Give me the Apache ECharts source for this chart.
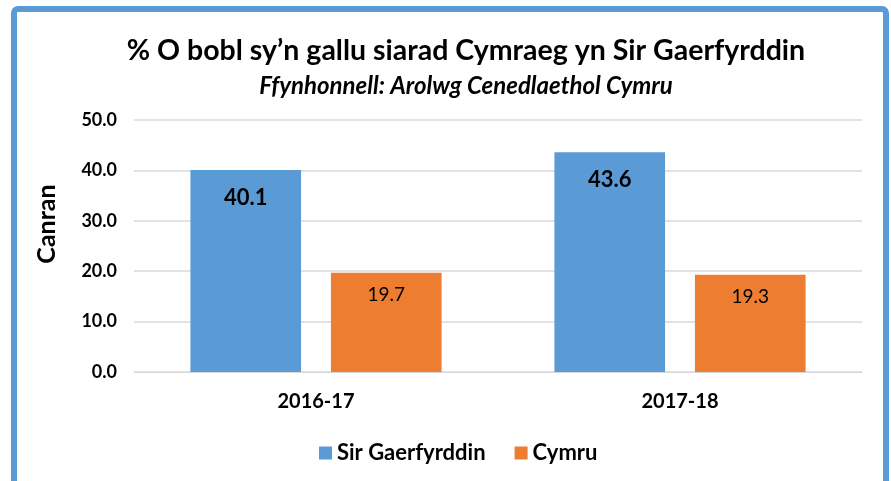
<!DOCTYPE html>
<html>
<head>
<meta charset="utf-8">
<script src="https://cdn.jsdelivr.net/npm/echarts@6/dist/echarts.min.js"></script>
<style>
html, body { margin: 0; padding: 0; background: #fff; }
#chart { width: 891px; height: 481px; }
</style>
</head>
<body>
<div id="chart"></div>
<script>
var categories = ["2016-17", "2017-18"];
var sirGaerfyrddin = [40.1, 43.6];
var cymru = [19.7, 19.3];
var seriesNames = ["Sir Gaerfyrddin", "Cymru"];

var font = "Lato, 'Open Sans', sans-serif";
var myChart = echarts.init(document.getElementById("chart"));
myChart.setOption({
  animation: false,
  backgroundColor: "#ffffff",
  textStyle: { fontFamily: font },
  graphic: [
    {
      type: "rect",
      shape: { x: 14, y: 9, width: 872, height: 490, r: 4 },
      style: { fill: "none", stroke: "#5b9bd5", lineWidth: 6 }
    }
  ],
  title: {
    text: "% O bobl sy\u2019n gallu siarad Cymraeg yn Sir Gaerfyrddin",
    subtext: "Ffynhonnell: Arolwg Cenedlaethol Cymru",
    left: 461,
    textAlign: "center",
    top: 31,
    itemGap: 9,
    textStyle: { fontFamily: font, fontSize: 28.5, fontWeight: "bold", color: "#000" },
    subtextStyle: { fontFamily: font, fontSize: 24, fontWeight: "bold", fontStyle: "italic", color: "#000" }
  },
  legend: {
    data: seriesNames,
    bottom: 12,
    left: 314,
    itemWidth: 13,
    itemHeight: 13,
    itemGap: 29,
    icon: "rect",
    textStyle: { fontFamily: font, fontSize: 22, fontWeight: "bold", color: "#000" }
  },
  grid: { left: 134, right: 29, top: 120, bottom: 109 },
  xAxis: {
    type: "category",
    data: categories,
    axisTick: { show: false },
    axisLine: { lineStyle: { color: "#d9d9d9" } },
    axisLabel: { fontFamily: font, fontSize: 20, fontWeight: "bold", color: "#000", margin: 20 }
  },
  yAxis: {
    type: "value",
    min: 0,
    max: 50,
    interval: 10,
    name: "Canran",
    nameLocation: "middle",
    nameGap: 75,
    nameTextStyle: { fontFamily: font, fontSize: 25, fontWeight: "bold", color: "#000", padding: [0, 0, 0, 44] },
    axisLine: { show: false },
    axisTick: { show: false },
    splitLine: { lineStyle: { color: "#d9d9d9", width: 1.5 } },
    axisLabel: {
      fontFamily: font, fontSize: 18, fontWeight: "bold", color: "#000", margin: 17,
      formatter: function (v) { return v.toFixed(1); }
    }
  },
  series: [
    {
      name: seriesNames[0],
      type: "bar",
      data: sirGaerfyrddin,
      barGap: "27%",
      barCategoryGap: "31%",
      itemStyle: { color: "#5b9bd5" },
      label: {
        show: true, position: "insideTop", distance: 17,
        fontFamily: font, fontSize: 22, fontWeight: "bold", color: "#000",
        formatter: function (p) { return p.value.toFixed(1); }
      }
    },
    {
      name: seriesNames[1],
      type: "bar",
      data: cymru,
      itemStyle: { color: "#ed7d31" },
      label: {
        show: true, position: "insideTop", distance: 13,
        fontFamily: font, fontSize: 19, color: "#000",
        formatter: function (p) { return p.value.toFixed(1); }
      }
    }
  ]
});
</script>
</body>
</html>
